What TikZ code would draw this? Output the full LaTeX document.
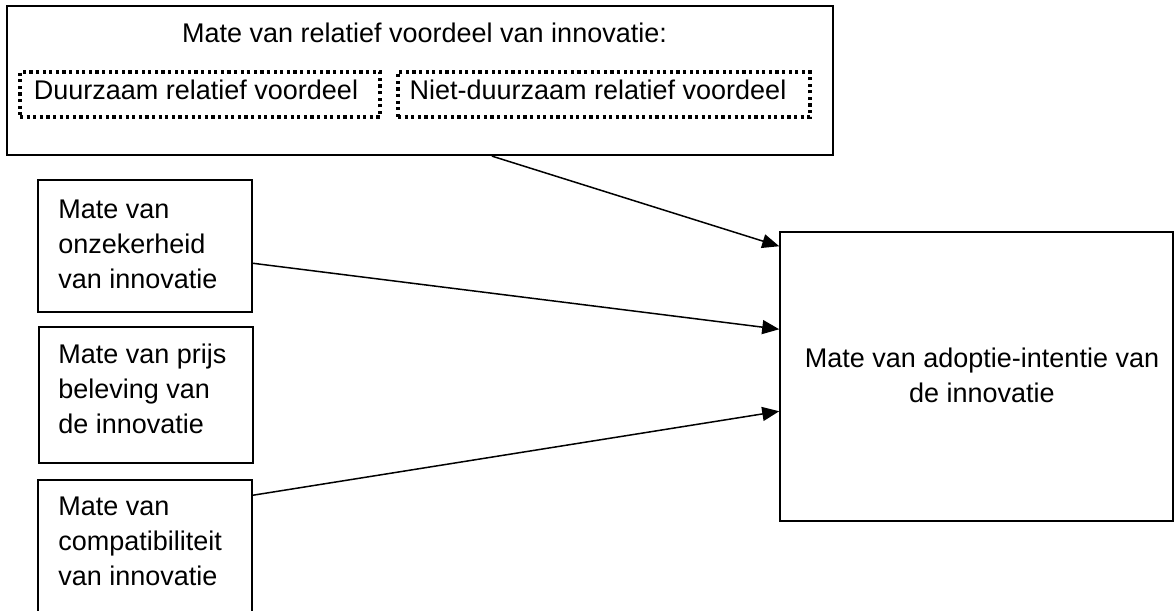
\documentclass[tikz,border=0pt]{standalone}
\usepackage{fontspec}
\setmainfont{Liberation Sans}
\usetikzlibrary{fit,arrows.meta}
\begin{document}
\begin{tikzpicture}[x=0.5pt,y=-0.5pt,
  box/.style={draw,line width=0.75pt,inner sep=0pt},
  bigbox/.style={draw,line width=1.1pt,inner sep=0pt},
  dotbox/.style={draw,line width=1.6pt,dash pattern=on 1.6pt off 1.7pt,inner sep=0pt},
  txt/.style={inner sep=0pt,font=\fontsize{13.5}{17.5}\selectfont},
  arr/.style={line width=0.75pt,-{Triangle[length=8.5pt,width=7pt]}}]
\useasboundingbox (0,0) rectangle (1175,611);
\clip (0,0) rectangle (1175,611);
% top box
\node[bigbox,fit={(7,6) (833,155)}] (top) {};
\node[txt,anchor=base] (title) at (424.5,42) {Mate van relatief voordeel van innovatie:};
\node[dotbox,fit={(20,72) (380,117)}] (d1) {};
\node[txt,anchor=base] (d1t) at (196,99) {Duurzaam relatief voordeel};
\node[dotbox,fit={(398,72) (810,117)}] (d2) {};
\node[txt,anchor=base] (d2t) at (598,99) {Niet-duurzaam relatief voordeel};
% left boxes
\node[box,fit={(38,180) (252,312)}] (a) {};
\node[txt,align=left,anchor=base west] (at) at (58,288) {Mate van\\onzekerheid\\van innovatie};
\node[box,fit={(39,327) (253,463)}] (b) {};
\node[txt,align=left,anchor=base west] (bt) at (58,433) {Mate van prijs\\beleving van\\de innovatie};
\node[box,fit={(38,480) (252,650)}] (c) {};
\node[txt,align=left,anchor=base west] (ct) at (58,585) {Mate van\\compatibiliteit\\van innovatie};
% right box
\node[box,fit={(780,232) (1173,521)}] (r) {};
\node[txt,align=center,anchor=base] (rt) at (982,402) {Mate van adoptie-intentie van\\de innovatie};
% arrows
\draw[arr] ([xshift=243pt]top.south west) -- ([yshift=-7.5pt]r.north west);
\draw[arr] ([yshift=-42pt]a.north east) -- ([yshift=-49pt]r.north west);
\draw[arr] ([yshift=-8pt]c.north east) -- ([yshift=-90pt]r.north west);
\end{tikzpicture}
\end{document}
